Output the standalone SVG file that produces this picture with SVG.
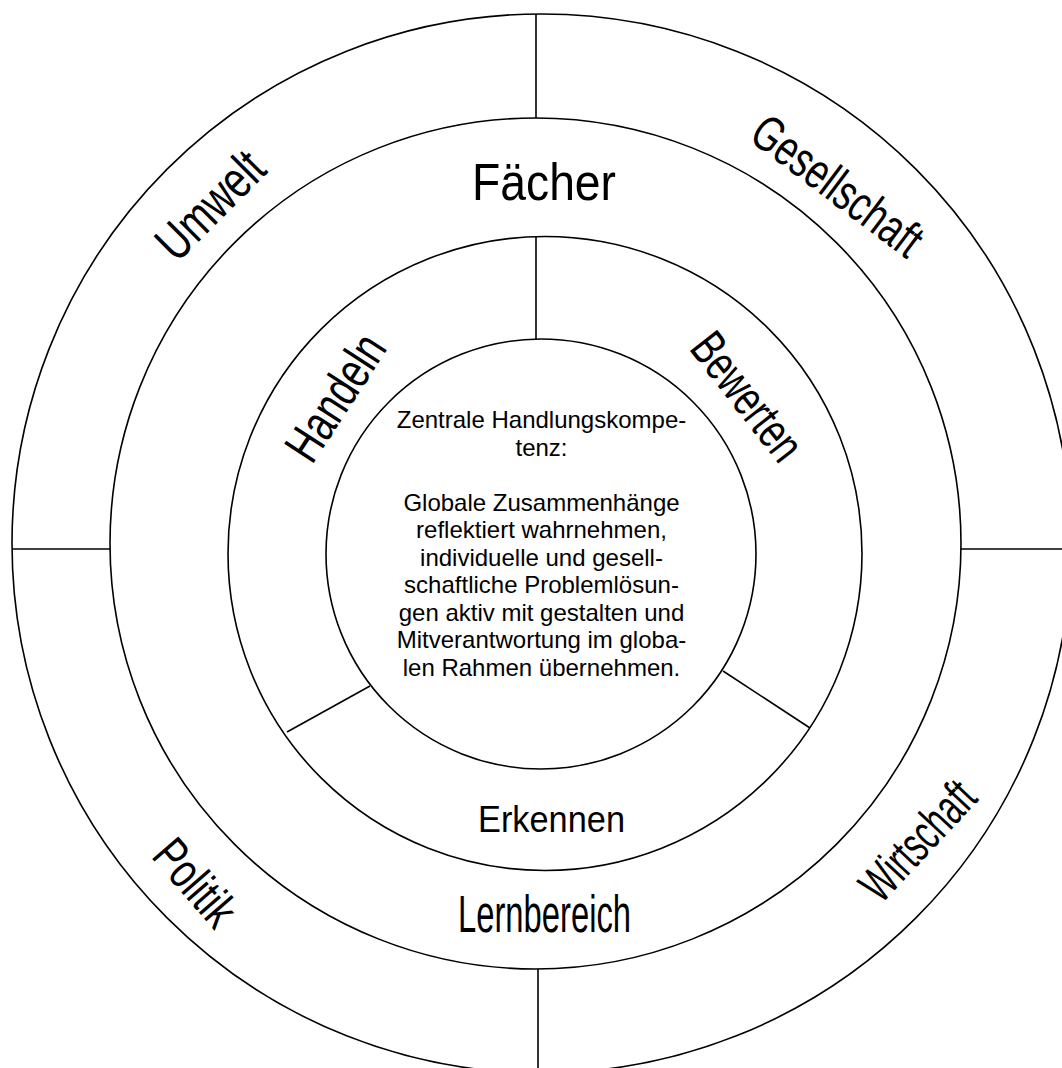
<svg xmlns="http://www.w3.org/2000/svg" width="1062" height="1068" viewBox="0 0 1062 1068">
<style>
.ring{fill:none;stroke:#000;stroke-width:1.6}
.div{stroke:#000;stroke-width:1.6;fill:none}
.lbl{font-family:"Liberation Sans",Arial,sans-serif;fill:#000;text-anchor:middle}
.ctr{font-family:"Liberation Sans",Arial,sans-serif;font-size:24px;fill:#000;text-anchor:middle}
</style>
<rect width="1062" height="1068" fill="#fff"/>
<g id="rings">
<circle id="ring-outer" class="ring" cx="541.5" cy="543.5" r="529.5"/>
<circle id="ring-faecher" class="ring" cx="535.5" cy="543.5" r="425.5"/>
<circle id="ring-kompetenz" class="ring" cx="545" cy="553.5" r="317"/>
<circle id="ring-center" class="ring" cx="541" cy="554" r="215"/>
</g>
<g id="connectors">
<line class="div" x1="536" y1="14" x2="536" y2="118"/>
<line class="div" x1="538" y1="969" x2="538" y2="1068"/>
<line class="div" x1="12" y1="549" x2="110" y2="549"/>
<line class="div" x1="961" y1="549" x2="1062" y2="549"/>
<line class="div" x1="536" y1="237" x2="536" y2="339"/>
<line class="div" x1="370" y1="686" x2="287" y2="732"/>
<line class="div" x1="723" y1="671" x2="810" y2="728"/>
</g>
<g id="node-umwelt"><text class="lbl" font-size="52" transform="translate(210 205) rotate(-45)" y="18" textLength="130" lengthAdjust="spacingAndGlyphs">Umwelt</text></g>
<g id="node-gesellschaft"><text class="lbl" font-size="50" transform="translate(838 185) rotate(37)" y="18" textLength="200" lengthAdjust="spacingAndGlyphs">Gesellschaft</text></g>
<g id="node-politik"><text class="lbl" font-size="50" transform="translate(196 882) rotate(49)" y="18" textLength="98" lengthAdjust="spacingAndGlyphs">Politik</text></g>
<g id="node-wirtschaft"><text class="lbl" font-size="50" transform="translate(917 840) rotate(-47)" y="18" textLength="144" lengthAdjust="spacingAndGlyphs">Wirtschaft</text></g>
<g id="node-faecher"><text class="lbl" font-size="52" x="544" y="200" textLength="144" lengthAdjust="spacingAndGlyphs">Fächer</text></g>
<g id="node-lernbereich"><text class="lbl" font-size="51" x="544.5" y="932" textLength="173" lengthAdjust="spacingAndGlyphs">Lernbereich</text></g>
<g id="node-handeln"><text class="lbl" font-size="51" transform="translate(335 397) rotate(-57)" y="18" textLength="140" lengthAdjust="spacingAndGlyphs">Handeln</text></g>
<g id="node-bewerten"><text class="lbl" font-size="50" transform="translate(748 396) rotate(52)" y="18" textLength="148" lengthAdjust="spacingAndGlyphs">Bewerten</text></g>
<g id="node-erkennen"><text class="lbl" font-size="37" x="551.5" y="832" textLength="147" lengthAdjust="spacingAndGlyphs">Erkennen</text></g>
<g id="node-zentrum">
<text class="ctr" x="541.5" y="428">Zentrale Handlungskompe-</text>
<text class="ctr" x="541.5" y="455.5">tenz:</text>
<text class="ctr" x="541.5" y="510.5">Globale Zusammenhänge</text>
<text class="ctr" x="541.5" y="538">reflektiert wahrnehmen,</text>
<text class="ctr" x="541.5" y="565.5">individuelle und gesell-</text>
<text class="ctr" x="541.5" y="593">schaftliche Problemlösun-</text>
<text class="ctr" x="541.5" y="620.5">gen aktiv mit gestalten und</text>
<text class="ctr" x="541.5" y="648">Mitverantwortung im globa-</text>
<text class="ctr" x="541.5" y="675.5">len Rahmen übernehmen.</text>
</g>
</svg>
